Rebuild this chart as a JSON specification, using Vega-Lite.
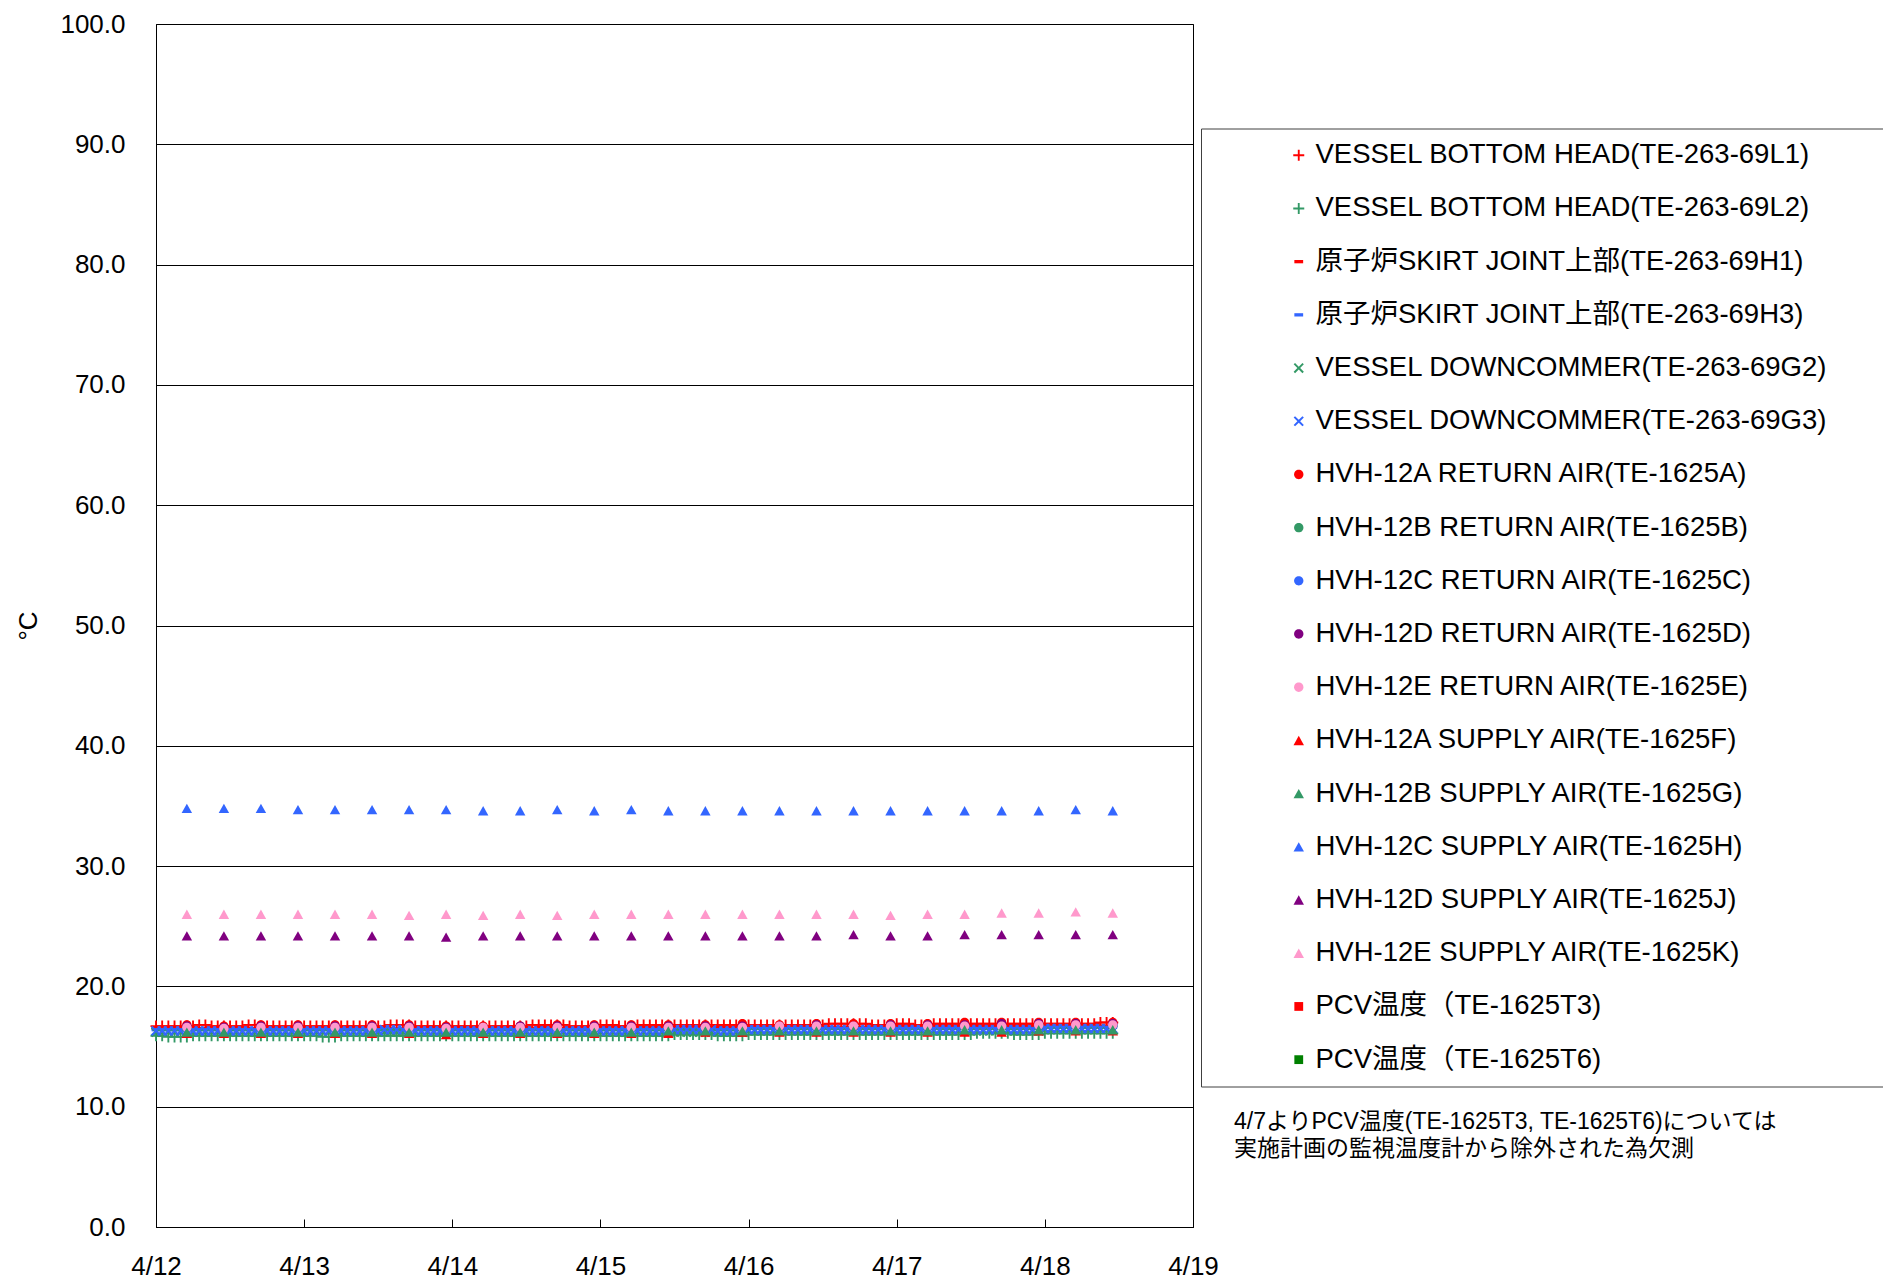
{
"$schema": "https://vega.github.io/schema/vega-lite/v6.json",
"width": 1037, "height": 1203,
"autosize": {"type": "none"},
"padding": {"left": 156, "top": 24, "right": 690, "bottom": 53},
"background": "white",
"config": {"view": {"stroke": "black", "strokeWidth": 1}, "font": "Liberation Sans"},
"title": {"text": ["4/7よりPCV温度(TE-1625T3, TE-1625T6)については", "実施計画の監視温度計から除外された為欠測"], "orient": "top", "anchor": "start", "frame": "group", "baseline": "top", "offset": 0, "dx": 1078, "dy": 1150, "font": "Liberation Sans, Noto Sans CJK JP", "fontSize": 23, "fontWeight": "normal", "color": "black", "lineHeight": 27.5},
"datasets": {
"series": [
{"key":"L1","idx":1,"name":"VESSEL BOTTOM HEAD(TE-263-69L1)"},
{"key":"L2","idx":2,"name":"VESSEL BOTTOM HEAD(TE-263-69L2)"},
{"key":"H1","idx":3,"name":"原子炉SKIRT JOINT上部(TE-263-69H1)"},
{"key":"H3","idx":4,"name":"原子炉SKIRT JOINT上部(TE-263-69H3)"},
{"key":"G2","idx":5,"name":"VESSEL DOWNCOMMER(TE-263-69G2)"},
{"key":"G3","idx":6,"name":"VESSEL DOWNCOMMER(TE-263-69G3)"},
{"key":"RA","idx":7,"name":"HVH-12A RETURN AIR(TE-1625A)"},
{"key":"RB","idx":8,"name":"HVH-12B RETURN AIR(TE-1625B)"},
{"key":"RC","idx":9,"name":"HVH-12C RETURN AIR(TE-1625C)"},
{"key":"RD","idx":10,"name":"HVH-12D RETURN AIR(TE-1625D)"},
{"key":"RE","idx":11,"name":"HVH-12E RETURN AIR(TE-1625E)"},
{"key":"SA","idx":12,"name":"HVH-12A SUPPLY AIR(TE-1625F)"},
{"key":"SB","idx":13,"name":"HVH-12B SUPPLY AIR(TE-1625G)"},
{"key":"SC","idx":14,"name":"HVH-12C SUPPLY AIR(TE-1625H)"},
{"key":"SD","idx":15,"name":"HVH-12D SUPPLY AIR(TE-1625J)"},
{"key":"SE","idx":16,"name":"HVH-12E SUPPLY AIR(TE-1625K)"}
],
"temps": [
{"t":"2014-04-12T00:00","L1":16.7,"L2":15.9,"H1":16.5,"H3":16.4,"G2":16.2,"G3":16.3},
{"t":"2014-04-12T01:00","L1":16.7,"L2":15.9,"H1":16.5,"H3":16.4,"G2":16.2,"G3":16.3},
{"t":"2014-04-12T02:00","L1":16.7,"L2":15.8,"H1":16.5,"H3":16.4,"G2":16.2,"G3":16.3},
{"t":"2014-04-12T03:00","L1":16.7,"L2":15.8,"H1":16.5,"H3":16.4,"G2":16.2,"G3":16.3},
{"t":"2014-04-12T04:00","L1":16.7,"L2":15.8,"H1":16.5,"H3":16.4,"G2":16.2,"G3":16.3},
{"t":"2014-04-12T05:00","L1":16.7,"L2":15.8,"H1":16.5,"H3":16.4,"G2":16.2,"G3":16.3,"RA":16.8,"RB":16.5,"RC":16.5,"RD":16.7,"RE":16.6,"SA":16.1,"SB":16.2,"SC":34.8,"SD":24.2,"SE":26.0},
{"t":"2014-04-12T06:00","L1":16.7,"L2":15.9,"H1":16.5,"H3":16.4,"G2":16.2,"G3":16.3},
{"t":"2014-04-12T07:00","L1":16.8,"L2":15.9,"H1":16.5,"H3":16.4,"G2":16.2,"G3":16.3},
{"t":"2014-04-12T08:00","L1":16.8,"L2":15.9,"H1":16.5,"H3":16.4,"G2":16.2,"G3":16.3},
{"t":"2014-04-12T09:00","L1":16.7,"L2":15.9,"H1":16.5,"H3":16.4,"G2":16.2,"G3":16.3},
{"t":"2014-04-12T10:00","L1":16.7,"L2":15.9,"H1":16.5,"H3":16.4,"G2":16.2,"G3":16.3},
{"t":"2014-04-12T11:00","L1":16.7,"L2":15.9,"H1":16.5,"H3":16.4,"G2":16.2,"G3":16.3,"RA":16.7,"RB":16.5,"RC":16.5,"RD":16.6,"RE":16.5,"SA":16.1,"SB":16.2,"SC":34.8,"SD":24.2,"SE":26.0},
{"t":"2014-04-12T12:00","L1":16.7,"L2":15.9,"H1":16.5,"H3":16.4,"G2":16.2,"G3":16.3},
{"t":"2014-04-12T13:00","L1":16.7,"L2":15.9,"H1":16.5,"H3":16.4,"G2":16.2,"G3":16.3},
{"t":"2014-04-12T14:00","L1":16.7,"L2":15.9,"H1":16.5,"H3":16.4,"G2":16.2,"G3":16.3},
{"t":"2014-04-12T15:00","L1":16.8,"L2":15.9,"H1":16.5,"H3":16.4,"G2":16.2,"G3":16.3},
{"t":"2014-04-12T16:00","L1":16.8,"L2":15.9,"H1":16.5,"H3":16.4,"G2":16.2,"G3":16.3},
{"t":"2014-04-12T17:00","L1":16.7,"L2":15.9,"H1":16.5,"H3":16.4,"G2":16.2,"G3":16.3,"RA":16.8,"RB":16.5,"RC":16.5,"RD":16.7,"RE":16.6,"SA":16.1,"SB":16.2,"SC":34.8,"SD":24.2,"SE":26.0},
{"t":"2014-04-12T18:00","L1":16.7,"L2":15.9,"H1":16.5,"H3":16.4,"G2":16.2,"G3":16.3},
{"t":"2014-04-12T19:00","L1":16.7,"L2":15.9,"H1":16.5,"H3":16.4,"G2":16.2,"G3":16.3},
{"t":"2014-04-12T20:00","L1":16.7,"L2":15.9,"H1":16.5,"H3":16.4,"G2":16.2,"G3":16.3},
{"t":"2014-04-12T21:00","L1":16.7,"L2":15.9,"H1":16.5,"H3":16.4,"G2":16.2,"G3":16.3},
{"t":"2014-04-12T22:00","L1":16.7,"L2":15.9,"H1":16.5,"H3":16.4,"G2":16.2,"G3":16.3},
{"t":"2014-04-12T23:00","L1":16.7,"L2":15.9,"H1":16.5,"H3":16.4,"G2":16.2,"G3":16.3,"RA":16.8,"RB":16.5,"RC":16.5,"RD":16.7,"RE":16.6,"SA":16.1,"SB":16.2,"SC":34.7,"SD":24.2,"SE":26.0},
{"t":"2014-04-13T00:00","L1":16.7,"L2":15.9,"H1":16.5,"H3":16.4,"G2":16.2,"G3":16.3},
{"t":"2014-04-13T01:00","L1":16.7,"L2":15.9,"H1":16.5,"H3":16.4,"G2":16.2,"G3":16.3},
{"t":"2014-04-13T02:00","L1":16.7,"L2":15.9,"H1":16.5,"H3":16.4,"G2":16.2,"G3":16.3},
{"t":"2014-04-13T03:00","L1":16.7,"L2":15.8,"H1":16.5,"H3":16.4,"G2":16.2,"G3":16.3},
{"t":"2014-04-13T04:00","L1":16.7,"L2":15.8,"H1":16.5,"H3":16.4,"G2":16.2,"G3":16.3},
{"t":"2014-04-13T05:00","L1":16.7,"L2":15.8,"H1":16.5,"H3":16.4,"G2":16.2,"G3":16.3,"RA":16.8,"RB":16.5,"RC":16.5,"RD":16.7,"RE":16.6,"SA":16.1,"SB":16.2,"SC":34.7,"SD":24.2,"SE":26.0},
{"t":"2014-04-13T06:00","L1":16.7,"L2":15.9,"H1":16.5,"H3":16.4,"G2":16.2,"G3":16.3},
{"t":"2014-04-13T07:00","L1":16.7,"L2":15.9,"H1":16.5,"H3":16.4,"G2":16.2,"G3":16.3},
{"t":"2014-04-13T08:00","L1":16.7,"L2":15.9,"H1":16.5,"H3":16.4,"G2":16.2,"G3":16.3},
{"t":"2014-04-13T09:00","L1":16.7,"L2":15.9,"H1":16.5,"H3":16.4,"G2":16.2,"G3":16.3},
{"t":"2014-04-13T10:00","L1":16.7,"L2":15.9,"H1":16.5,"H3":16.4,"G2":16.2,"G3":16.3},
{"t":"2014-04-13T11:00","L1":16.7,"L2":15.9,"H1":16.5,"H3":16.4,"G2":16.2,"G3":16.3,"RA":16.8,"RB":16.5,"RC":16.5,"RD":16.7,"RE":16.6,"SA":16.1,"SB":16.2,"SC":34.7,"SD":24.2,"SE":26.0},
{"t":"2014-04-13T12:00","L1":16.7,"L2":15.9,"H1":16.5,"H3":16.4,"G2":16.2,"G3":16.3},
{"t":"2014-04-13T13:00","L1":16.7,"L2":15.9,"H1":16.5,"H3":16.4,"G2":16.2,"G3":16.4},
{"t":"2014-04-13T14:00","L1":16.8,"L2":15.9,"H1":16.5,"H3":16.4,"G2":16.2,"G3":16.4},
{"t":"2014-04-13T15:00","L1":16.8,"L2":15.9,"H1":16.5,"H3":16.4,"G2":16.2,"G3":16.4},
{"t":"2014-04-13T16:00","L1":16.8,"L2":15.9,"H1":16.5,"H3":16.4,"G2":16.2,"G3":16.4},
{"t":"2014-04-13T17:00","L1":16.8,"L2":15.9,"H1":16.5,"H3":16.4,"G2":16.2,"G3":16.3,"RA":16.8,"RB":16.6,"RC":16.5,"RD":16.7,"RE":16.6,"SA":16.1,"SB":16.2,"SC":34.7,"SD":24.2,"SE":25.9},
{"t":"2014-04-13T18:00","L1":16.7,"L2":15.9,"H1":16.5,"H3":16.4,"G2":16.2,"G3":16.3},
{"t":"2014-04-13T19:00","L1":16.7,"L2":15.9,"H1":16.5,"H3":16.4,"G2":16.2,"G3":16.3},
{"t":"2014-04-13T20:00","L1":16.7,"L2":15.9,"H1":16.5,"H3":16.4,"G2":16.2,"G3":16.3},
{"t":"2014-04-13T21:00","L1":16.7,"L2":15.9,"H1":16.5,"H3":16.4,"G2":16.2,"G3":16.3},
{"t":"2014-04-13T22:00","L1":16.7,"L2":15.9,"H1":16.5,"H3":16.4,"G2":16.2,"G3":16.3},
{"t":"2014-04-13T23:00","L1":16.7,"L2":15.9,"H1":16.5,"H3":16.4,"G2":16.2,"G3":16.3,"RA":16.7,"RB":16.5,"RC":16.5,"RD":16.6,"RE":16.5,"SA":16.0,"SB":16.2,"SC":34.7,"SD":24.1,"SE":26.0},
{"t":"2014-04-14T00:00","L1":16.7,"L2":15.9,"H1":16.5,"H3":16.4,"G2":16.2,"G3":16.3},
{"t":"2014-04-14T01:00","L1":16.7,"L2":15.9,"H1":16.5,"H3":16.4,"G2":16.2,"G3":16.3},
{"t":"2014-04-14T02:00","L1":16.7,"L2":15.9,"H1":16.5,"H3":16.4,"G2":16.2,"G3":16.3},
{"t":"2014-04-14T03:00","L1":16.7,"L2":15.9,"H1":16.5,"H3":16.4,"G2":16.2,"G3":16.3},
{"t":"2014-04-14T04:00","L1":16.7,"L2":15.9,"H1":16.5,"H3":16.4,"G2":16.2,"G3":16.3},
{"t":"2014-04-14T05:00","L1":16.7,"L2":15.9,"H1":16.5,"H3":16.4,"G2":16.2,"G3":16.3,"RA":16.7,"RB":16.5,"RC":16.5,"RD":16.6,"RE":16.6,"SA":16.1,"SB":16.2,"SC":34.6,"SD":24.2,"SE":25.9},
{"t":"2014-04-14T06:00","L1":16.7,"L2":15.9,"H1":16.5,"H3":16.4,"G2":16.2,"G3":16.3},
{"t":"2014-04-14T07:00","L1":16.7,"L2":15.9,"H1":16.5,"H3":16.4,"G2":16.2,"G3":16.3},
{"t":"2014-04-14T08:00","L1":16.7,"L2":15.9,"H1":16.5,"H3":16.4,"G2":16.2,"G3":16.3},
{"t":"2014-04-14T09:00","L1":16.7,"L2":15.9,"H1":16.5,"H3":16.4,"G2":16.2,"G3":16.3},
{"t":"2014-04-14T10:00","L1":16.7,"L2":15.9,"H1":16.5,"H3":16.4,"G2":16.2,"G3":16.3},
{"t":"2014-04-14T11:00","L1":16.7,"L2":15.9,"H1":16.5,"H3":16.4,"G2":16.2,"G3":16.3,"RA":16.7,"RB":16.5,"RC":16.5,"RD":16.7,"RE":16.6,"SA":16.1,"SB":16.2,"SC":34.6,"SD":24.2,"SE":26.0},
{"t":"2014-04-14T12:00","L1":16.7,"L2":15.9,"H1":16.5,"H3":16.4,"G2":16.2,"G3":16.3},
{"t":"2014-04-14T13:00","L1":16.8,"L2":15.9,"H1":16.5,"H3":16.4,"G2":16.2,"G3":16.3},
{"t":"2014-04-14T14:00","L1":16.8,"L2":15.9,"H1":16.6,"H3":16.4,"G2":16.2,"G3":16.3},
{"t":"2014-04-14T15:00","L1":16.8,"L2":15.9,"H1":16.6,"H3":16.4,"G2":16.2,"G3":16.3},
{"t":"2014-04-14T16:00","L1":16.8,"L2":15.9,"H1":16.6,"H3":16.4,"G2":16.2,"G3":16.3},
{"t":"2014-04-14T17:00","L1":16.8,"L2":15.9,"H1":16.6,"H3":16.4,"G2":16.2,"G3":16.3,"RA":16.8,"RB":16.5,"RC":16.5,"RD":16.7,"RE":16.6,"SA":16.1,"SB":16.2,"SC":34.7,"SD":24.2,"SE":25.9},
{"t":"2014-04-14T18:00","L1":16.8,"L2":15.9,"H1":16.5,"H3":16.4,"G2":16.2,"G3":16.3},
{"t":"2014-04-14T19:00","L1":16.7,"L2":15.9,"H1":16.5,"H3":16.4,"G2":16.2,"G3":16.3},
{"t":"2014-04-14T20:00","L1":16.7,"L2":15.9,"H1":16.5,"H3":16.4,"G2":16.2,"G3":16.3},
{"t":"2014-04-14T21:00","L1":16.7,"L2":15.9,"H1":16.5,"H3":16.4,"G2":16.2,"G3":16.3},
{"t":"2014-04-14T22:00","L1":16.7,"L2":15.9,"H1":16.5,"H3":16.4,"G2":16.2,"G3":16.3},
{"t":"2014-04-14T23:00","L1":16.7,"L2":15.9,"H1":16.5,"H3":16.4,"G2":16.2,"G3":16.3,"RA":16.8,"RB":16.5,"RC":16.5,"RD":16.7,"RE":16.6,"SA":16.1,"SB":16.2,"SC":34.6,"SD":24.2,"SE":26.0},
{"t":"2014-04-15T00:00","L1":16.8,"L2":15.9,"H1":16.6,"H3":16.4,"G2":16.2,"G3":16.3},
{"t":"2014-04-15T01:00","L1":16.8,"L2":15.9,"H1":16.6,"H3":16.4,"G2":16.2,"G3":16.3},
{"t":"2014-04-15T02:00","L1":16.8,"L2":15.9,"H1":16.6,"H3":16.4,"G2":16.2,"G3":16.3},
{"t":"2014-04-15T03:00","L1":16.7,"L2":15.9,"H1":16.6,"H3":16.4,"G2":16.2,"G3":16.3},
{"t":"2014-04-15T04:00","L1":16.7,"L2":15.9,"H1":16.6,"H3":16.4,"G2":16.2,"G3":16.3},
{"t":"2014-04-15T05:00","L1":16.7,"L2":15.9,"H1":16.6,"H3":16.4,"G2":16.2,"G3":16.3,"RA":16.8,"RB":16.6,"RC":16.5,"RD":16.7,"RE":16.6,"SA":16.1,"SB":16.2,"SC":34.7,"SD":24.2,"SE":26.0},
{"t":"2014-04-15T06:00","L1":16.8,"L2":15.9,"H1":16.6,"H3":16.4,"G2":16.2,"G3":16.3},
{"t":"2014-04-15T07:00","L1":16.8,"L2":15.9,"H1":16.6,"H3":16.4,"G2":16.2,"G3":16.3},
{"t":"2014-04-15T08:00","L1":16.8,"L2":15.9,"H1":16.6,"H3":16.4,"G2":16.2,"G3":16.3},
{"t":"2014-04-15T09:00","L1":16.8,"L2":15.9,"H1":16.6,"H3":16.4,"G2":16.2,"G3":16.3},
{"t":"2014-04-15T10:00","L1":16.8,"L2":15.9,"H1":16.6,"H3":16.4,"G2":16.2,"G3":16.3},
{"t":"2014-04-15T11:00","L1":16.8,"L2":15.9,"H1":16.6,"H3":16.4,"G2":16.2,"G3":16.3,"RA":16.8,"RB":16.6,"RC":16.6,"RD":16.7,"RE":16.6,"SA":16.1,"SB":16.3,"SC":34.6,"SD":24.2,"SE":26.0},
{"t":"2014-04-15T12:00","L1":16.8,"L2":16.0,"H1":16.6,"H3":16.4,"G2":16.2,"G3":16.4},
{"t":"2014-04-15T13:00","L1":16.8,"L2":16.0,"H1":16.6,"H3":16.4,"G2":16.2,"G3":16.4},
{"t":"2014-04-15T14:00","L1":16.8,"L2":16.0,"H1":16.6,"H3":16.4,"G2":16.2,"G3":16.4},
{"t":"2014-04-15T15:00","L1":16.8,"L2":16.0,"H1":16.6,"H3":16.4,"G2":16.2,"G3":16.4},
{"t":"2014-04-15T16:00","L1":16.8,"L2":16.0,"H1":16.6,"H3":16.4,"G2":16.2,"G3":16.4},
{"t":"2014-04-15T17:00","L1":16.8,"L2":16.0,"H1":16.6,"H3":16.4,"G2":16.2,"G3":16.4,"RA":16.8,"RB":16.6,"RC":16.6,"RD":16.7,"RE":16.6,"SA":16.2,"SB":16.3,"SC":34.6,"SD":24.2,"SE":26.0},
{"t":"2014-04-15T18:00","L1":16.8,"L2":16.0,"H1":16.6,"H3":16.4,"G2":16.2,"G3":16.4},
{"t":"2014-04-15T19:00","L1":16.8,"L2":15.9,"H1":16.6,"H3":16.4,"G2":16.2,"G3":16.3},
{"t":"2014-04-15T20:00","L1":16.8,"L2":15.9,"H1":16.6,"H3":16.4,"G2":16.2,"G3":16.3},
{"t":"2014-04-15T21:00","L1":16.8,"L2":15.9,"H1":16.6,"H3":16.4,"G2":16.2,"G3":16.3},
{"t":"2014-04-15T22:00","L1":16.8,"L2":15.9,"H1":16.6,"H3":16.4,"G2":16.2,"G3":16.3},
{"t":"2014-04-15T23:00","L1":16.8,"L2":15.9,"H1":16.6,"H3":16.4,"G2":16.2,"G3":16.3,"RA":16.9,"RB":16.6,"RC":16.6,"RD":16.7,"RE":16.6,"SA":16.2,"SB":16.3,"SC":34.6,"SD":24.2,"SE":26.0},
{"t":"2014-04-16T00:00","L1":16.8,"L2":16.0,"H1":16.6,"H3":16.5,"G2":16.3,"G3":16.4},
{"t":"2014-04-16T01:00","L1":16.8,"L2":16.0,"H1":16.6,"H3":16.5,"G2":16.3,"G3":16.4},
{"t":"2014-04-16T02:00","L1":16.8,"L2":16.0,"H1":16.6,"H3":16.5,"G2":16.3,"G3":16.4},
{"t":"2014-04-16T03:00","L1":16.8,"L2":16.0,"H1":16.6,"H3":16.5,"G2":16.3,"G3":16.4},
{"t":"2014-04-16T04:00","L1":16.8,"L2":16.0,"H1":16.6,"H3":16.5,"G2":16.3,"G3":16.4},
{"t":"2014-04-16T05:00","L1":16.8,"L2":16.0,"H1":16.6,"H3":16.5,"G2":16.3,"G3":16.4,"RA":16.8,"RB":16.6,"RC":16.6,"RD":16.7,"RE":16.7,"SA":16.2,"SB":16.3,"SC":34.6,"SD":24.2,"SE":26.0},
{"t":"2014-04-16T06:00","L1":16.8,"L2":16.0,"H1":16.6,"H3":16.5,"G2":16.3,"G3":16.4},
{"t":"2014-04-16T07:00","L1":16.8,"L2":16.0,"H1":16.6,"H3":16.5,"G2":16.3,"G3":16.4},
{"t":"2014-04-16T08:00","L1":16.8,"L2":16.0,"H1":16.6,"H3":16.5,"G2":16.3,"G3":16.4},
{"t":"2014-04-16T09:00","L1":16.8,"L2":16.0,"H1":16.6,"H3":16.5,"G2":16.3,"G3":16.4},
{"t":"2014-04-16T10:00","L1":16.8,"L2":16.0,"H1":16.6,"H3":16.5,"G2":16.3,"G3":16.4},
{"t":"2014-04-16T11:00","L1":16.8,"L2":16.0,"H1":16.6,"H3":16.5,"G2":16.3,"G3":16.4,"RA":16.9,"RB":16.6,"RC":16.6,"RD":16.8,"RE":16.7,"SA":16.2,"SB":16.3,"SC":34.6,"SD":24.2,"SE":26.0},
{"t":"2014-04-16T12:00","L1":16.8,"L2":16.0,"H1":16.6,"H3":16.5,"G2":16.3,"G3":16.4},
{"t":"2014-04-16T13:00","L1":16.9,"L2":16.0,"H1":16.6,"H3":16.5,"G2":16.3,"G3":16.4},
{"t":"2014-04-16T14:00","L1":16.9,"L2":16.0,"H1":16.6,"H3":16.5,"G2":16.3,"G3":16.4},
{"t":"2014-04-16T15:00","L1":16.9,"L2":16.0,"H1":16.6,"H3":16.5,"G2":16.3,"G3":16.4},
{"t":"2014-04-16T16:00","L1":16.9,"L2":16.0,"H1":16.6,"H3":16.5,"G2":16.3,"G3":16.4},
{"t":"2014-04-16T17:00","L1":16.9,"L2":16.0,"H1":16.6,"H3":16.5,"G2":16.3,"G3":16.4,"RA":16.9,"RB":16.6,"RC":16.6,"RD":16.7,"RE":16.7,"SA":16.2,"SB":16.3,"SC":34.6,"SD":24.3,"SE":26.0},
{"t":"2014-04-16T18:00","L1":16.9,"L2":16.0,"H1":16.6,"H3":16.5,"G2":16.3,"G3":16.4},
{"t":"2014-04-16T19:00","L1":16.9,"L2":16.0,"H1":16.6,"H3":16.5,"G2":16.3,"G3":16.4},
{"t":"2014-04-16T20:00","L1":16.8,"L2":16.0,"H1":16.6,"H3":16.5,"G2":16.3,"G3":16.4},
{"t":"2014-04-16T21:00","L1":16.8,"L2":16.0,"H1":16.6,"H3":16.5,"G2":16.3,"G3":16.4},
{"t":"2014-04-16T22:00","L1":16.8,"L2":16.0,"H1":16.6,"H3":16.5,"G2":16.3,"G3":16.4},
{"t":"2014-04-16T23:00","L1":16.8,"L2":16.0,"H1":16.6,"H3":16.5,"G2":16.3,"G3":16.4,"RA":16.9,"RB":16.6,"RC":16.6,"RD":16.8,"RE":16.7,"SA":16.2,"SB":16.3,"SC":34.6,"SD":24.2,"SE":25.9},
{"t":"2014-04-17T00:00","L1":16.9,"L2":16.0,"H1":16.7,"H3":16.5,"G2":16.3,"G3":16.4},
{"t":"2014-04-17T01:00","L1":16.9,"L2":16.0,"H1":16.7,"H3":16.5,"G2":16.3,"G3":16.4},
{"t":"2014-04-17T02:00","L1":16.9,"L2":16.0,"H1":16.7,"H3":16.5,"G2":16.3,"G3":16.4},
{"t":"2014-04-17T03:00","L1":16.8,"L2":16.0,"H1":16.7,"H3":16.5,"G2":16.3,"G3":16.4},
{"t":"2014-04-17T04:00","L1":16.8,"L2":16.0,"H1":16.7,"H3":16.5,"G2":16.3,"G3":16.4},
{"t":"2014-04-17T05:00","L1":16.8,"L2":16.0,"H1":16.7,"H3":16.5,"G2":16.3,"G3":16.4,"RA":16.9,"RB":16.6,"RC":16.6,"RD":16.8,"RE":16.7,"SA":16.2,"SB":16.3,"SC":34.6,"SD":24.2,"SE":26.0},
{"t":"2014-04-17T06:00","L1":16.9,"L2":16.0,"H1":16.7,"H3":16.5,"G2":16.3,"G3":16.4},
{"t":"2014-04-17T07:00","L1":16.9,"L2":16.0,"H1":16.7,"H3":16.5,"G2":16.3,"G3":16.4},
{"t":"2014-04-17T08:00","L1":16.9,"L2":16.0,"H1":16.7,"H3":16.5,"G2":16.3,"G3":16.4},
{"t":"2014-04-17T09:00","L1":16.9,"L2":16.0,"H1":16.7,"H3":16.5,"G2":16.3,"G3":16.4},
{"t":"2014-04-17T10:00","L1":16.9,"L2":16.0,"H1":16.7,"H3":16.5,"G2":16.3,"G3":16.4},
{"t":"2014-04-17T11:00","L1":16.9,"L2":16.0,"H1":16.7,"H3":16.5,"G2":16.3,"G3":16.4,"RA":17.0,"RB":16.7,"RC":16.7,"RD":16.8,"RE":16.7,"SA":16.2,"SB":16.4,"SC":34.6,"SD":24.3,"SE":26.0},
{"t":"2014-04-17T12:00","L1":16.9,"L2":16.0,"H1":16.7,"H3":16.5,"G2":16.3,"G3":16.4},
{"t":"2014-04-17T13:00","L1":16.9,"L2":16.1,"H1":16.7,"H3":16.5,"G2":16.3,"G3":16.4},
{"t":"2014-04-17T14:00","L1":16.9,"L2":16.1,"H1":16.7,"H3":16.5,"G2":16.3,"G3":16.4},
{"t":"2014-04-17T15:00","L1":16.9,"L2":16.1,"H1":16.7,"H3":16.5,"G2":16.3,"G3":16.4},
{"t":"2014-04-17T16:00","L1":16.9,"L2":16.1,"H1":16.7,"H3":16.5,"G2":16.3,"G3":16.4},
{"t":"2014-04-17T17:00","L1":16.9,"L2":16.1,"H1":16.7,"H3":16.5,"G2":16.3,"G3":16.4,"RA":17.0,"RB":16.7,"RC":16.7,"RD":16.9,"RE":16.7,"SA":16.2,"SB":16.4,"SC":34.6,"SD":24.3,"SE":26.1},
{"t":"2014-04-17T18:00","L1":16.9,"L2":16.1,"H1":16.7,"H3":16.5,"G2":16.3,"G3":16.4},
{"t":"2014-04-17T19:00","L1":16.9,"L2":16.0,"H1":16.7,"H3":16.5,"G2":16.3,"G3":16.4},
{"t":"2014-04-17T20:00","L1":16.9,"L2":16.0,"H1":16.7,"H3":16.5,"G2":16.3,"G3":16.4},
{"t":"2014-04-17T21:00","L1":16.9,"L2":16.0,"H1":16.7,"H3":16.5,"G2":16.3,"G3":16.4},
{"t":"2014-04-17T22:00","L1":16.9,"L2":16.0,"H1":16.7,"H3":16.5,"G2":16.3,"G3":16.4},
{"t":"2014-04-17T23:00","L1":16.9,"L2":16.0,"H1":16.7,"H3":16.5,"G2":16.3,"G3":16.4,"RA":17.0,"RB":16.7,"RC":16.7,"RD":16.9,"RE":16.8,"SA":16.3,"SB":16.4,"SC":34.6,"SD":24.3,"SE":26.1},
{"t":"2014-04-18T00:00","L1":16.9,"L2":16.1,"H1":16.7,"H3":16.6,"G2":16.4,"G3":16.5},
{"t":"2014-04-18T01:00","L1":16.9,"L2":16.1,"H1":16.7,"H3":16.6,"G2":16.4,"G3":16.5},
{"t":"2014-04-18T02:00","L1":16.9,"L2":16.1,"H1":16.7,"H3":16.6,"G2":16.4,"G3":16.5},
{"t":"2014-04-18T03:00","L1":16.9,"L2":16.1,"H1":16.7,"H3":16.6,"G2":16.4,"G3":16.5},
{"t":"2014-04-18T04:00","L1":16.9,"L2":16.1,"H1":16.7,"H3":16.6,"G2":16.4,"G3":16.5},
{"t":"2014-04-18T05:00","L1":16.9,"L2":16.1,"H1":16.7,"H3":16.6,"G2":16.4,"G3":16.5,"RA":17.0,"RB":16.7,"RC":16.7,"RD":16.9,"RE":16.8,"SA":16.3,"SB":16.4,"SC":34.7,"SD":24.3,"SE":26.2},
{"t":"2014-04-18T06:00","L1":16.9,"L2":16.1,"H1":16.7,"H3":16.6,"G2":16.4,"G3":16.5},
{"t":"2014-04-18T07:00","L1":16.9,"L2":16.1,"H1":16.7,"H3":16.6,"G2":16.4,"G3":16.5},
{"t":"2014-04-18T08:00","L1":16.9,"L2":16.1,"H1":16.7,"H3":16.6,"G2":16.4,"G3":16.5},
{"t":"2014-04-18T09:00","L1":17.0,"L2":16.1,"H1":16.7,"H3":16.6,"G2":16.4,"G3":16.5},
{"t":"2014-04-18T10:00","L1":17.0,"L2":16.1,"H1":16.7,"H3":16.6,"G2":16.4,"G3":16.5},
{"t":"2014-04-18T11:00","L1":17.0,"L2":16.1,"H1":16.7,"H3":16.6,"G2":16.4,"G3":16.5,"RA":17.0,"RB":16.7,"RC":16.7,"RD":16.9,"RE":16.8,"SA":16.3,"SB":16.4,"SC":34.6,"SD":24.3,"SE":26.1}
]
},
"data": {"name": "temps"},
"transform": [
{"fold": ["L1","L2","H1","H3","G2","G3","RA","RB","RC","RD","RE","SA","SB","SC","SD","SE"], "as": ["key","value"]},
{"filter": "isValid(datum.value)"},
{"lookup": "key", "from": {"data": {"name": "series"}, "key": "key", "fields": ["name","idx"]}}
],
"mark": {"type": "point", "filled": true, "size": 121, "opacity": 1, "strokeWidth": 0, "clip": false},
"encoding": {
"x": {"field": "t", "type": "temporal",
  "scale": {"domain": [{"year": 2014, "month": 4, "date": 12}, {"year": 2014, "month": 4, "date": 19}]},
  "axis": {"title": null, "format": "%-m/%-d", "values": [{"year": 2014, "month": 4, "date": 12}, {"year": 2014, "month": 4, "date": 13}, {"year": 2014, "month": 4, "date": 14}, {"year": 2014, "month": 4, "date": 15}, {"year": 2014, "month": 4, "date": 16}, {"year": 2014, "month": 4, "date": 17}, {"year": 2014, "month": 4, "date": 18}, {"year": 2014, "month": 4, "date": 19}],
    "grid": false, "domainColor": "black", "domainWidth": 1, "tickColor": "black", "tickSize": -8, "tickWidth": 1, "labelPadding": 34, "labelFontSize": 26, "labelColor": "black", "labelFont": "Liberation Sans", "labelFlush": false, "labelOverlap": false}},
"y": {"field": "value", "type": "quantitative",
  "scale": {"domain": [0, 100], "nice": false},
  "axis": {"title": "°C", "values": [0,10,20,30,40,50,60,70,80,90,100], "format": ".1f", "grid": true, "gridColor": "black", "gridOpacity": 1, "gridWidth": 1, "ticks": false, "domainColor": "black", "domainWidth": 1, "labelPadding": 31, "labelFontSize": 26, "labelColor": "black", "labelFont": "Liberation Sans", "titleFontSize": 26, "titleFontWeight": "normal", "titleColor": "black", "titleFont": "Liberation Sans", "titlePadding": 18}},
"color": {"field": "name", "type": "nominal",
  "scale": {"domain": ["VESSEL BOTTOM HEAD(TE-263-69L1)","VESSEL BOTTOM HEAD(TE-263-69L2)","原子炉SKIRT JOINT上部(TE-263-69H1)","原子炉SKIRT JOINT上部(TE-263-69H3)","VESSEL DOWNCOMMER(TE-263-69G2)","VESSEL DOWNCOMMER(TE-263-69G3)","HVH-12A RETURN AIR(TE-1625A)","HVH-12B RETURN AIR(TE-1625B)","HVH-12C RETURN AIR(TE-1625C)","HVH-12D RETURN AIR(TE-1625D)","HVH-12E RETURN AIR(TE-1625E)","HVH-12A SUPPLY AIR(TE-1625F)","HVH-12B SUPPLY AIR(TE-1625G)","HVH-12C SUPPLY AIR(TE-1625H)","HVH-12D SUPPLY AIR(TE-1625J)","HVH-12E SUPPLY AIR(TE-1625K)","PCV温度（TE-1625T3)","PCV温度（TE-1625T6)"],
    "range": ["#FF0000","#339966","#FF0000","#3366FF","#339966","#3366FF","#FF0000","#339966","#3366FF","#800080","#FF99CC","#FF0000","#339966","#3366FF","#800080","#FF99CC","#FF0000","#008000"]},
  "legend": {"title": "WW", "titleOrient": "right", "titleAngle": 0, "titleAnchor": "start", "titleBaseline": "top", "titleColor": "white", "titleFont": "Liberation Sans", "titleFontSize": 20, "titleFontWeight": "normal", "titlePadding": 14, "titleLimit": 500, "orient": "none", "legendX": 1045, "legendY": 104.5, "padding": 13, "symbolOffset": 71, "labelOffset": 3, "rowPadding": 24.2, "labelFontSize": 27.5, "labelFont": "Liberation Sans, Noto Sans CJK JP", "labelColor": "black", "labelLimit": 2000, "strokeColor": "#404040", "fillColor": "white", "symbolSize": 121, "symbolStrokeWidth": 0, "symbolOpacity": 1}},
"shape": {"field": "name", "type": "nominal",
  "scale": {"domain": ["VESSEL BOTTOM HEAD(TE-263-69L1)","VESSEL BOTTOM HEAD(TE-263-69L2)","原子炉SKIRT JOINT上部(TE-263-69H1)","原子炉SKIRT JOINT上部(TE-263-69H3)","VESSEL DOWNCOMMER(TE-263-69G2)","VESSEL DOWNCOMMER(TE-263-69G3)","HVH-12A RETURN AIR(TE-1625A)","HVH-12B RETURN AIR(TE-1625B)","HVH-12C RETURN AIR(TE-1625C)","HVH-12D RETURN AIR(TE-1625D)","HVH-12E RETURN AIR(TE-1625E)","HVH-12A SUPPLY AIR(TE-1625F)","HVH-12B SUPPLY AIR(TE-1625G)","HVH-12C SUPPLY AIR(TE-1625H)","HVH-12D SUPPLY AIR(TE-1625J)","HVH-12E SUPPLY AIR(TE-1625K)","PCV温度（TE-1625T3)","PCV温度（TE-1625T6)"],
    "range": ["M-0.17,-1H0.17V-0.17H1V0.17H0.17V1H-0.17V0.17H-1V-0.17H-0.17Z","M-0.17,-1H0.17V-0.17H1V0.17H0.17V1H-0.17V0.17H-1V-0.17H-0.17Z","M-0.8,-0.3H0.8V0.3H-0.8Z","M-0.8,-0.3H0.8V0.3H-0.8Z","M0,-0.255L0.673,-0.927L0.927,-0.673L0.255,0L0.927,0.673L0.673,0.927L0,0.255L-0.673,0.927L-0.927,0.673L-0.255,0L-0.927,-0.673L-0.673,-0.927Z","M0,-0.255L0.673,-0.927L0.927,-0.673L0.255,0L0.927,0.673L0.673,0.927L0,0.255L-0.673,0.927L-0.927,0.673L-0.255,0L-0.927,-0.673L-0.673,-0.927Z","M0.85,0A0.85,0.85,0,1,1,-0.85,0A0.85,0.85,0,1,1,0.85,0Z","M0.85,0A0.85,0.85,0,1,1,-0.85,0A0.85,0.85,0,1,1,0.85,0Z","M0.85,0A0.85,0.85,0,1,1,-0.85,0A0.85,0.85,0,1,1,0.85,0Z","M0.85,0A0.85,0.85,0,1,1,-0.85,0A0.85,0.85,0,1,1,0.85,0Z","M0.85,0A0.85,0.85,0,1,1,-0.85,0A0.85,0.85,0,1,1,0.85,0Z","M0,-0.85L0.95,0.85L-0.95,0.85Z","M0,-0.85L0.95,0.85L-0.95,0.85Z","M0,-0.85L0.95,0.85L-0.95,0.85Z","M0,-0.85L0.95,0.85L-0.95,0.85Z","M0,-0.85L0.95,0.85L-0.95,0.85Z","M-0.8,-0.8H0.8V0.8H-0.8Z","M-0.8,-0.8H0.8V0.8H-0.8Z"]},
  "legend": null},
"order": {"field": "idx", "type": "quantitative"}
}
}
